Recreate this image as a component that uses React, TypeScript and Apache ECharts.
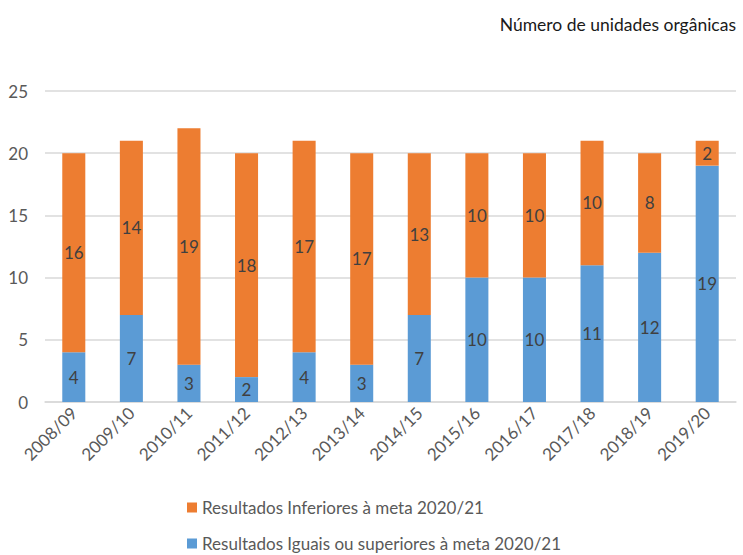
import React, { useEffect, useRef } from "react";
import * as echarts from "echarts";

const categories = ["2008/09", "2009/10", "2010/11", "2011/12", "2012/13", "2013/14", "2014/15", "2015/16", "2016/17", "2017/18", "2018/19", "2019/20"];
const iguais = [4, 7, 3, 2, 4, 3, 7, 10, 10, 11, 12, 19];
const inferiores = [16, 14, 19, 18, 17, 17, 13, 10, 10, 10, 8, 2];
const nameInf = "Resultados Inferiores à meta 2020/21";
const nameIg = "Resultados Iguais ou superiores à meta 2020/21";
const title = "Número de unidades orgânicas";

const FONT = "Lato, 'Open Sans', sans-serif";

const legendBase = {
  left: 187,
  itemWidth: 10,
  itemHeight: 10,
  icon: "rect",
  padding: 0,
  textStyle: { fontSize: 17, color: "#595959", fontFamily: FONT },
};

export default function App() {
  const ref = useRef<HTMLDivElement>(null);
  useEffect(() => {
    const chart = echarts.init(ref.current!, null, { renderer: "svg" });
    chart.setOption({
      animation: false,
      textStyle: { fontFamily: FONT },
      title: {
        text: title,
        right: 2,
        top: 10,
        textStyle: { fontSize: 17.5, fontWeight: "normal", color: "#1a1a1a", fontFamily: FONT },
      },
      legend: [
        { ...legendBase, top: 499, data: [nameInf] },
        { ...legendBase, top: 535, data: [nameIg] },
      ],
      grid: { left: 45, right: 7, top: 91, height: 311, containLabel: false },
      xAxis: {
        type: "category",
        data: categories,
        axisLine: { lineStyle: { color: "#d9d9d9", width: 1.5 } },
        axisTick: { show: false },
        axisLabel: { rotate: 45, fontSize: 17, color: "#595959", margin: 8, fontFamily: FONT },
      },
      yAxis: {
        type: "value",
        min: 0,
        max: 25,
        interval: 5,
        axisLine: { show: false },
        axisTick: { show: false },
        splitLine: { lineStyle: { color: "#d9d9d9", width: 1.5 } },
        axisLabel: { fontSize: 17, color: "#595959", margin: 17, fontFamily: FONT },
      },
      series: [
        {
          name: nameIg,
          type: "bar",
          stack: "a",
          data: iguais,
          barWidth: "40%",
          itemStyle: { color: "#5b9bd5" },
          label: { show: true, position: "inside", color: "#404040", fontSize: 17, fontFamily: FONT },
        },
        {
          name: nameInf,
          type: "bar",
          stack: "a",
          data: inferiores,
          barWidth: "40%",
          itemStyle: { color: "#ed7d31" },
          label: { show: true, position: "inside", color: "#404040", fontSize: 17, fontFamily: FONT },
        },
      ],
    });
    return () => chart.dispose();
  }, []);
  return <div ref={ref} style={{ width: 743, height: 555, position: "absolute", left: 0, top: 0 }} />;
}
